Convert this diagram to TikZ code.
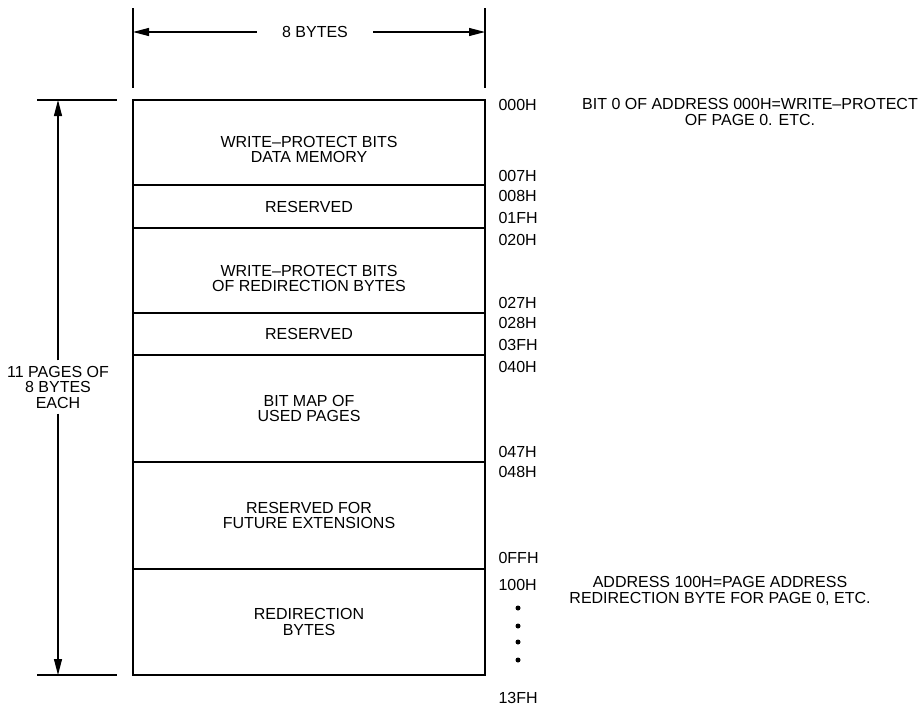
\documentclass[tikz,border=0pt]{standalone}
\usepackage{fontspec}
\setmainfont{Liberation Sans}
\usetikzlibrary{positioning,arrows.meta}

\begin{document}
\begin{tikzpicture}[x=1pt,y=-1pt,line width=1.1pt,
    every node/.style={font=\fontsize{16}{15.5}\selectfont,align=center},
    region/.style={draw,minimum width=352pt,inner sep=0pt,outer sep=0pt},
    addr/.style={anchor=west,inner sep=0pt},
    dimarrow/.style={-{Triangle[length=16pt,width=8pt]}}
]
    \useasboundingbox (0,0) rectangle (918,707);

    % memory map
    \node[region,minimum height=85pt,anchor=north west] (wpdata) at (133,100) {};
    \node[region,minimum height=43pt,below=0pt of wpdata] (resa) {RESERVED};
    \node[region,minimum height=85pt,below=0pt of resa] (wpredir) {};
    \node[region,minimum height=42pt,below=0pt of wpredir] (resb) {RESERVED};
    \node[region,minimum height=107pt,below=0pt of resb] (bitmap)
        {BIT MAP OF\\USED PAGES};
    \node[region,minimum height=107pt,below=0pt of bitmap] (future)
        {RESERVED FOR\\FUTURE EXTENSIONS};
    \node[region,minimum height=106pt,below=0pt of future] (redir)
        {REDIRECTION\\BYTES};
    \node (wpdatatext) at ([yshift=-7pt]wpdata.center)
        {WRITE--PROTECT BITS\\DATA MEMORY};
    \node (wpredirtext) at ([yshift=-8pt]wpredir.center)
        {WRITE--PROTECT BITS\\OF REDIRECTION BYTES};

    % width
    \coordinate (wl) at (133,32);
    \coordinate (wr) at (485,32);
    \draw (133,8) -- (133,88);
    \draw (485,8) -- (485,88);
    \node[inner xsep=25pt] (width) at (315,32) {8 BYTES};
    \draw[dimarrow] (width.west) -- (wl);
    \draw[dimarrow] (width.east) -- (wr);

    % height
    \coordinate (ht) at (58,100);
    \coordinate (hb) at (58,675);
    \draw (37,100) -- (117,100);
    \draw (37,675) -- (117,675);
    \node[inner ysep=5pt] (height) at (58,387) {11 PAGES OF\\8 BYTES\\EACH};
    \draw[dimarrow] (height.north) -- (ht);
    \draw[dimarrow] (height.south) -- (hb);

    % addresses
    \foreach \y/\a in {105/000H,176/007H,196/008H,218/01FH,240/020H,303/027H,
                       323/028H,345/03FH,367/040H,452/047H,472/048H,558/0FFH,
                       585/100H,698/13FH}
        \node[addr] (a\a) at (498,\y) {\a};
    \foreach \y in {608,626,642,660}
        \fill (518,\y) circle (2.5pt);

    % notes
    \node (notewp) at (750,112)
        {BIT 0 OF ADDRESS 000H=WRITE--PROTECT\\OF PAGE 0. ETC.};
    \node (noteredir) at (720,591)
        {ADDRESS 100H=PAGE ADDRESS\\REDIRECTION BYTE FOR PAGE 0, ETC.};
\end{tikzpicture}
\end{document}
